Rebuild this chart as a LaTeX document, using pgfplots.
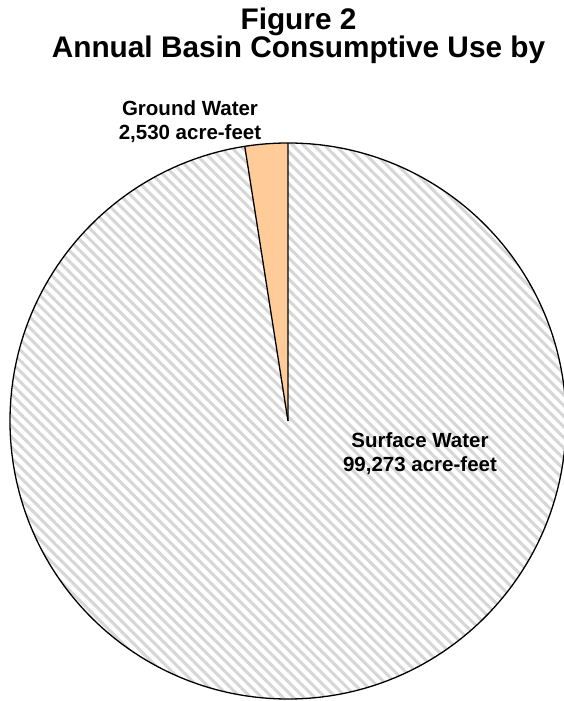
\documentclass[border=0pt]{standalone}
\usepackage{pgfplots}
\usepackage{pgfplotstable}
\pgfplotsset{compat=1.18}
\usepackage{fontspec}
\setmainfont{Liberation Sans}
\usetikzlibrary{patterns.meta}

\definecolor{stripe}{RGB}{214,214,214}
\definecolor{peach}{RGB}{255,204,153}

% consumptive use, acre-feet
\pgfplotstableread{
source  value
Surface 99273
Ground  2530
}\usetable

\begin{document}
\begin{tikzpicture}
\pgfplotstablegetelem{0}{value}\of\usetable \let\vsurf\pgfplotsretval
\pgfplotstablegetelem{1}{value}\of\usetable \let\vground\pgfplotsretval
% end angle of the ground water slice (numbers too big for pgfmath)
\edef\gend{\fpeval{round(90+360*\vground/(\vground+\vsurf),4)}}
\begin{axis}[
  width=564pt, height=701pt, scale only axis,
  xmin=0, xmax=564, ymin=0, ymax=701,
  hide axis, clip=true,
]
% ground water slice
\fill[peach] (axis cs:288,280) -- ++(90:278pt)
  arc[start angle=90, end angle=\gend, radius=278pt] -- cycle;
% surface water slice, hatched
\fill[white] (axis cs:288,280) -- ++(\gend:278pt)
  arc[start angle=\gend, end angle=450, radius=278pt] -- cycle;
\fill[pattern={Lines[angle=-45,distance=7.5pt,line width=3pt]}, pattern color=stripe]
  (axis cs:288,280) -- ++(\gend:278pt)
  arc[start angle=\gend, end angle=450, radius=278pt] -- cycle;
\draw[line width=1.3pt, line join=round] (axis cs:288,280) -- ++(90:278pt)
  arc[start angle=90, end angle=450, radius=278pt];
\draw[line width=1.3pt] (axis cs:288,280) -- ++(\gend:278pt);

\node[anchor=base, align=center, font=\bfseries\fontsize{29.8}{25}\selectfont]
  at (axis cs:298.5,643) {Figure 2\\Annual Basin Consumptive Use by};

\node[anchor=base, align=center, font=\bfseries\fontsize{20.5}{24}\selectfont]
  at (axis cs:190,561) {Ground Water\\2,530 acre-feet};
\node[anchor=base, align=center, font=\bfseries\fontsize{20.5}{24}\selectfont]
  at (axis cs:420,229) {Surface Water\\99,273 acre-feet};
\end{axis}
\pgfresetboundingbox
\path[use as bounding box] (current axis.south west) rectangle (current axis.north east);
\end{tikzpicture}
\end{document}
